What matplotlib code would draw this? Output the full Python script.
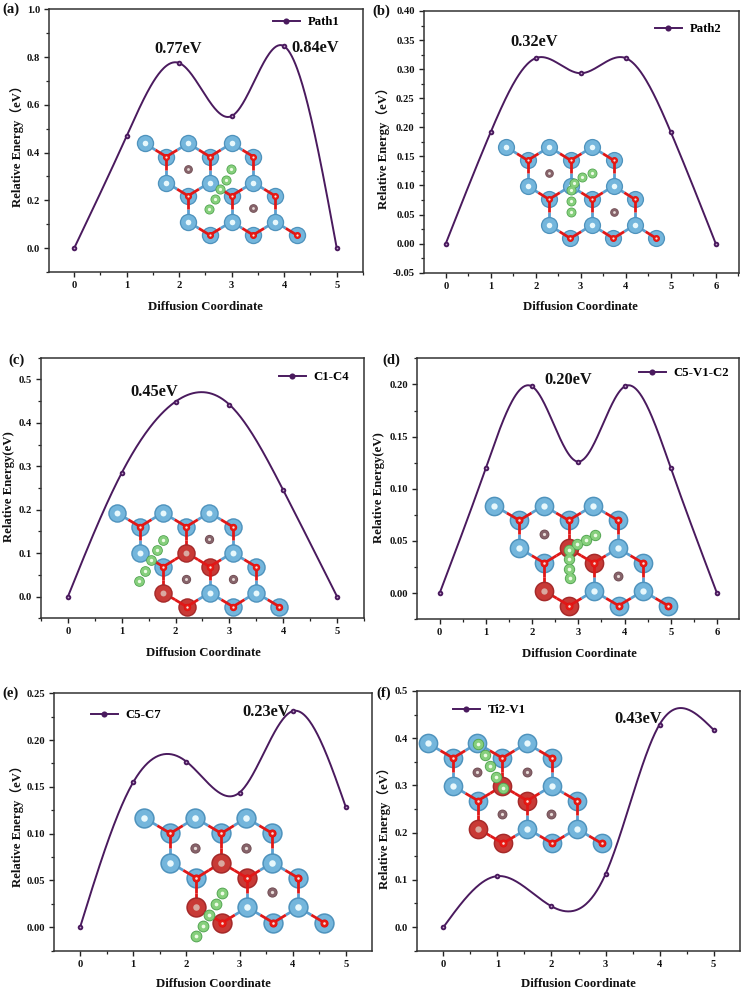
import numpy as np
import matplotlib
matplotlib.use('Agg')
import matplotlib.pyplot as plt
from matplotlib.ticker import MultipleLocator, FormatStrFormatter

FONT = ['Liberation Serif', 'Noto Sans CJK SC', 'DejaVu Sans']
plt.rcParams['font.family'] = FONT
plt.rcParams['font.weight'] = 'bold'
plt.rcParams['axes.unicode_minus'] = False

W, H = 744, 992
LINE = '#4a1a5e'
AXC = '#222222'

# energies
x_a = [0, 1, 2, 3, 4, 5]
y_a = [0, 0.47, 0.775, 0.553, 0.845, 0]
x_b = [0, 1, 2, 3, 4, 5, 6]
y_b = [0, 0.192, 0.319, 0.293, 0.319, 0.192, 0]
x_c = [0, 1, 2, 3, 4, 5]
y_c = [0, 0.285, 0.449, 0.442, 0.245, 0]
x_d = [0, 1, 2, 3, 4, 5, 6]
y_d = [0, 0.12, 0.198, 0.126, 0.198, 0.12, 0]
x_e = [0, 1, 2, 3, 4, 5]
y_e = [0, 0.155, 0.177, 0.144, 0.231, 0.128]
x_f = [0, 1, 2, 3, 4, 5]
y_f = [0, 0.108, 0.044, 0.112, 0.429, 0.418]

# green C atoms, in 3x zoom pixels of each quadrant
c_a = [(692, 508), (677, 540), (660, 567), (645, 596), (628, 626)]
c_b = [(660, 518), (630, 532), (606, 549), (596, 570), (596, 603), (597, 635)]
c_c = [(489, 631), (472, 660), (453, 691), (436, 722), (417, 752)]
c_d = [(669, 616), (641, 629), (615, 643), (590, 660), (591, 687), (592, 716), (594, 744)]
c_e = [(665, 700), (647, 732), (627, 765), (608, 798), (589, 828)]
c_f = [(319, 252), (340, 285), (355, 319), (373, 351), (392, 383)]

BROWN = [(1.0, 0.665), (2.0, 0.665), (1.5, 1.66), (2.5, 1.66)]


def spline(x, y, n=300):
    # natural cubic spline, like Origin's spline connect
    x = np.asarray(x, float)
    y = np.asarray(y, float)
    m = len(x)
    h = np.diff(x)
    A = np.zeros((m, m))
    b = np.zeros(m)
    A[0, 0] = A[-1, -1] = 1
    for i in range(1, m - 1):
        A[i, i - 1] = h[i - 1]
        A[i, i] = 2 * (h[i - 1] + h[i])
        A[i, i + 1] = h[i]
        b[i] = 6 * ((y[i + 1] - y[i]) / h[i] - (y[i] - y[i - 1]) / h[i - 1])
    s = np.linalg.solve(A, b)
    xs = np.linspace(x[0], x[-1], n)
    k = np.clip(np.searchsorted(x, xs) - 1, 0, m - 2)
    t1 = x[k + 1] - xs
    t2 = xs - x[k]
    ys = (s[k] * t1**3 + s[k + 1] * t2**3) / (6 * h[k]) \
        + (y[k] / h[k] - s[k] * h[k] / 6) * t1 \
        + (y[k + 1] / h[k] - s[k + 1] * h[k] / 6) * t2
    return xs, ys


def size(px):
    return (px * 2 * 0.72) ** 2


def ball(ov, x, y, r, cols, z):
    # fake sphere shading: dark rim, mid body, light centre
    ov.scatter(x, y, s=size(r), c=cols[0], linewidths=0, zorder=z)
    ov.scatter(x, y, s=size(r * 0.85), c=cols[1], linewidths=0, zorder=z + 0.01)
    ov.scatter(x, y, s=size(r * 0.32), c=cols[2], linewidths=0, zorder=z + 0.02)


BLUE = ('#4f93bd', '#74b6dc', '#e8f8fc')
DRED = ('#a52a2a', '#c83a36', '#d9a9a0')
ORED = ('#e00f0f', '#e81a14', '#f6e4e0')
GREEN = ('#4fa24f', '#86cf7c', '#eefbe6')
BRWN = ('#6e4a50', '#86636a', '#e8dcd8')


def inset(ov, ox, oy, a, dy, shift, dz, red, brown, carbons):
    A = lambda i, j: (ox + (i * a + j * shift), oy + j * dy)
    B = lambda i, j: (A(i, j)[0] + shift, A(i, j)[1] + dz)
    r = 0.2 * a / 3
    for i in range(3):
        for j in range(3):
            bx, by = B(i, j)
            ncol = DRED if ('B', i, j) in red else BLUE
            ball(ov, bx / 3, by / 3, r, ncol, 3)
            ends = [(i, j), (i + 1, j), (i, j + 1)]
            for e in ends:
                if e[0] > 2 or e[1] > 2:
                    continue
                ax_, ay_ = A(*e)
                mx, my = (ax_ + bx) / 2, (ay_ + by) / 2
                allred = ('A', e[0], e[1]) in red
                ov.plot([ax_ / 3, mx / 3], [ay_ / 3, my / 3],
                        color='#e01818' if allred else '#5b9fd0', lw=2.0,
                        solid_capstyle='butt', zorder=4)
                ov.plot([mx / 3, bx / 3], [my / 3, by / 3], color='#e01818', lw=2.0,
                        solid_capstyle='butt', zorder=4)
            ball(ov, bx / 3, by / 3, 0.08 * a / 3, ORED, 6)
    for i in range(3):
        for j in range(3):
            ax_, ay_ = A(i, j)
            ball(ov, ax_ / 3, ay_ / 3, r, DRED if ('A', i, j) in red else BLUE, 5)
    for k in brown:
        u, v = BROWN[k]
        ball(ov, (ox + u * a) / 3, (oy + v * dy) / 3, 0.1 * a / 3, BRWN, 5)
    for cx, cy in carbons:
        ball(ov, cx, cy, 0.115 * a / 3, GREEN, 7)


# overlay in image pixels, used for insets and free text
fig = plt.figure(figsize=(W / 100, H / 100), dpi=100, facecolor='white')
ov = fig.add_axes([0, 0, 1, 1], zorder=10)
ov.set_xlim(0, W)
ov.set_ylim(H, 0)
ov.axis('off')
ov.patch.set_alpha(0)


def panel(box, x, y, xlim, ylim, major, fmt, xmax, legend, leg_xy, ylabel, xl_xy, yl_xy):
    l, t, r, b = box
    ax = fig.add_axes([l / W, 1 - b / H, (r - l) / W, (b - t) / H])
    xs, ys = spline(x, y)
    ax.plot(xs, ys, color=LINE, lw=1.4, zorder=3)
    ax.plot(x, y, 'o', color=LINE, ms=4.0, mew=0, zorder=4)
    ax.plot(x, y, 'o', color='#c9a9d0', ms=1.2, mew=0, zorder=5)
    h = ax.plot([], [], '-o', color=LINE, lw=1.4, ms=4.4, mew=0, label=legend)
    ax.set_xlim(*xlim)
    ax.set_ylim(*ylim)
    ax.set_xticks(range(0, xmax + 1))
    ax.xaxis.set_minor_locator(MultipleLocator(0.5))
    ax.yaxis.set_major_locator(MultipleLocator(major))
    ax.yaxis.set_minor_locator(MultipleLocator(major / 2))
    ax.yaxis.set_major_formatter(FormatStrFormatter(fmt))
    ax.tick_params(which='major', length=3.5, width=1.0, labelsize=7.6, pad=3, color=AXC, labelcolor='#111111')
    ax.tick_params(which='minor', length=2, width=0.9, color=AXC)
    for s in ax.spines.values():
        s.set_linewidth(1.1)
        s.set_color('#333333')
    for lab in ax.get_xticklabels() + ax.get_yticklabels():
        lab.set_fontweight('bold')
    ax.set_xlabel('Diffusion Coordinate', fontsize=9.2, fontweight='bold', color='#111111', va='center')
    ax.set_ylabel(ylabel, fontsize=9.2, fontweight='bold', color='#111111', va='center')
    ax.xaxis.set_label_coords(xl_xy[0], xl_xy[1], transform=ov.transData)
    ax.yaxis.set_label_coords(yl_xy[0], yl_xy[1], transform=ov.transData)
    ax.legend(handles=h, loc='center left', bbox_to_anchor=leg_xy, bbox_transform=ov.transData,
              frameon=False, fontsize=9.2, handlelength=2.1, handletextpad=0.6,
              borderpad=0, borderaxespad=0)
    return ax


def note(x, y, s, size=11.8):
    ov.text(x, y, s, fontsize=size, fontweight='bold', ha='left', va='center', color='#111111', zorder=20)


panel((49, 9.3, 363, 272), x_a, y_a, (-0.48, 5.5), (-0.1, 1.0), 0.2, '%.1f', 5, 'Path1',
      (273, 22), 'Relative Energy（eV）', (205.5, 307), (17, 143))
panel((423.7, 11, 738.7, 272.7), x_b, y_b, (-0.49, 6.51), (-0.05, 0.40), 0.05, '%.2f', 6, 'Path2',
      (655, 29), 'Relative Energy（eV）', (580, 307), (383, 145))
panel((41, 357.7, 364, 618.3), x_c, y_c, (-0.5, 5.5), (-0.05, 0.55), 0.1, '%.1f', 5, 'C1-C4',
      (279, 377), 'Relative Energy(eV)', (203, 653), (9, 487))
panel((417, 358.3, 738.7, 619.3), x_d, y_d, (-0.49, 6.47), (-0.025, 0.225), 0.05, '%.2f', 6, 'C5-V1-C2',
      (639, 373), 'Relative Energy(eV)', (579, 654), (379, 488))
panel((54, 693.3, 372, 950.7), x_e, y_e, (-0.49, 5.49), (-0.025, 0.25), 0.05, '%.2f', 5, 'C5-C7',
      (91, 715), 'Relative Energy（eV）', (213, 984), (17, 823))
panel((417, 691, 740, 950.7), x_f, y_f, (-0.49, 5.49), (-0.05, 0.5), 0.1, '%.1f', 5, 'Ti2-V1',
      (453, 710), 'Relative Energy（eV）', (578, 984), (384, 825))

RED_SET = {('A', 1, 1), ('B', 1, 1), ('A', 0, 2), ('B', 0, 2)}


def shift_c(pts, dx, dy):
    return [(dx + p[0] / 3, dy + p[1] / 3) for p in pts]


# insets, each one drawn in its own quadrant offset
def place(qx, qy, ox, oy, a, dy, sh, dz, red, brown, carbons):
    inset(ov, ox + qx * 3, oy + qy * 3, a, dy, sh, dz, red, brown, shift_c(carbons, qx, qy))


place(0, 0, 434, 430, 130.5, 117.5, 65, 40, set(), [0, 3], c_a)
place(372, 0, 403, 441, 129, 117, 64, 40, set(), [0, 3], c_b)
place(0, 330, 350, 548, 139, 120, 70, 42, RED_SET, [1, 2, 3], c_c)
place(372, 330, 367, 527, 148, 128, 75, 44, RED_SET, [0, 3], c_d)
place(0, 660, 433, 474, 153, 134, 78, 46, RED_SET, [0, 1, 3], c_e)
place(372, 660, 168, 250, 148, 128, 75, 44, RED_SET, [0, 1, 2, 3], c_f)

note(154, 49, '0.77eV')
note(291, 48, '0.84eV')
note(510, 42, '0.32eV')
note(130, 392, '0.45eV')
note(544, 380, '0.20eV')
note(242, 712, '0.23eV')
note(614, 719, '0.43eV')

for px, py, lab in [(2, 9, '(a)'), (372, 11, '(b)'), (8, 360, '(c)'), (382, 360, '(d)'), (2, 693, '(e)'), (376, 693, '(f)')]:
    note(px, py, lab, size=10.5)

fig.savefig('out.png', dpi=100)
